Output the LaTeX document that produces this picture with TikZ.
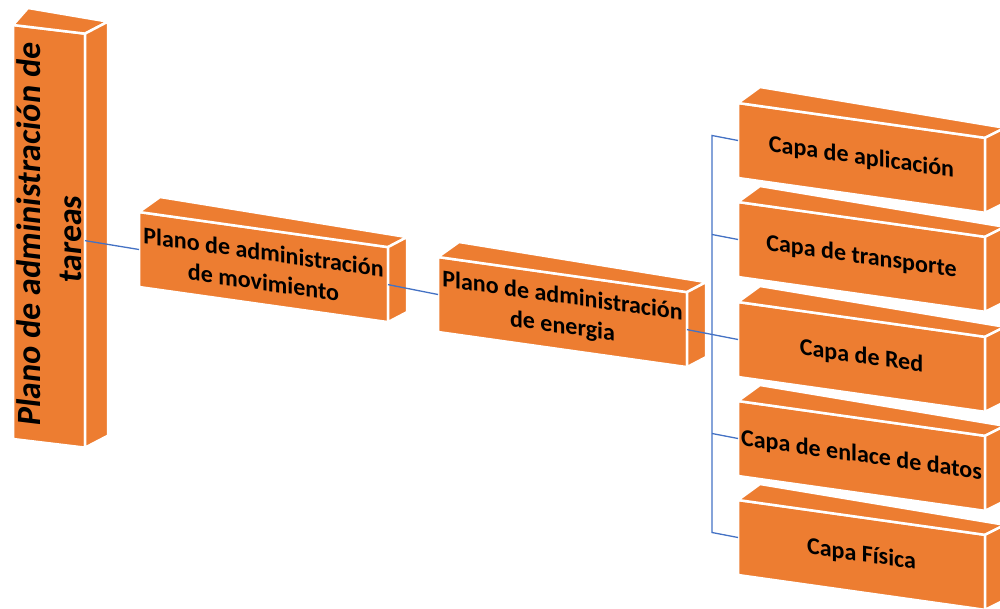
\documentclass[tikz,border=0pt]{standalone}
\usepackage{fontspec}
\setmainfont{Carlito}
\usetikzlibrary{calc}
\definecolor{boxorange}{HTML}{ED7D31}
\definecolor{linkblue}{HTML}{4472C4}
\newcommand\boxsides[5]{%
  \path[face] (#1.north west) -- ++(#2,#3) -- ($(#1.north east)+(#4,#5)$) -- (#1.north east) -- cycle;
  \path[face] (#1.north east) -- ++(#4,#5) -- ($(#1.south east)+(#4,#5)$) -- (#1.south east) -- cycle;
}
\begin{document}
\begin{tikzpicture}[x=1pt,y=1pt,
  face/.style={fill=boxorange, draw=white, line width=2.5pt, line join=round},
  front/.style={face, inner sep=0pt, outer sep=0pt, align=center, text=black,
    font=\bfseries\fontsize{24}{30}\selectfont},
  tallfont/.style={align=center, text=black, font=\bfseries\fontsize{34}{41}\selectfont},
  conn/.style={draw=linkblue, line width=1.3pt}]
\useasboundingbox (0,0) rectangle (1000,-609);
\clip (0,0) rectangle (1000,-609);

% tall box
\begin{scope}[shift={(13,-25)}, yslant=-0.12, transform shape]
  \node[front, minimum width=72, minimum height=414, anchor=north west] (tall) at (0,0) {};
  \node[tallfont, rotate=90] (tallt) at (tall.center) {Plano de administración de\\tareas};
\end{scope}
\boxsides{tall}{15}{17}{23}{12}

% movement box
\begin{scope}[shift={(139,-212)}, yslant=-0.141, transform shape]
  \node[front, minimum width=249, minimum height=75, anchor=north west] (mov) at (0,0)
    {Plano de administración\\de movimiento};
\end{scope}
\boxsides{mov}{21}{15}{19}{10}

% energy box
\begin{scope}[shift={(438,-257)}, yslant=-0.141, transform shape]
  \node[front, minimum width=249, minimum height=75, anchor=north west] (en) at (0,0)
    {Plano de administración\\de energia};
\end{scope}
\boxsides{en}{21}{15}{19}{10}

% layer boxes
\begin{scope}[shift={(738,-103)}, yslant=-0.141, transform shape]
  \node[front, minimum width=247, minimum height=75, anchor=north west] (app) at (0,0) {Capa de aplicación};
\end{scope}
\boxsides{app}{22}{16}{20}{10}
\begin{scope}[shift={(738,-202)}, yslant=-0.141, transform shape]
  \node[front, minimum width=247, minimum height=75, anchor=north west] (tra) at (0,0) {Capa de transporte};
\end{scope}
\boxsides{tra}{22}{16}{20}{10}
\begin{scope}[shift={(738,-302)}, yslant=-0.141, transform shape]
  \node[front, minimum width=247, minimum height=75, anchor=north west] (red) at (0,0) {Capa de Red};
\end{scope}
\boxsides{red}{22}{16}{20}{10}
\begin{scope}[shift={(738,-401)}, yslant=-0.141, transform shape]
  \node[front, minimum width=247, minimum height=75, anchor=north west] (enl) at (0,0) {Capa de enlace de datos};
\end{scope}
\boxsides{enl}{22}{16}{20}{10}
\begin{scope}[shift={(738,-500)}, yslant=-0.141, transform shape]
  \node[front, minimum width=247, minimum height=75, anchor=north west] (fis) at (0,0) {Capa Física};
\end{scope}
\boxsides{fis}{22}{16}{20}{10}

% connectors
\coordinate (b1) at ($(app.west)+(-26,5)$);
\coordinate (b2) at ($(tra.west)+(-26,5)$);
\coordinate (b4) at ($(enl.west)+(-26,5)$);
\coordinate (b5) at ($(fis.west)+(-26,5)$);
\draw[conn] (tall.east) -- (mov.west);
\draw[conn] (mov.east) -- (en.west);
\draw[conn] (en.east) -- (red.west);
\draw[conn] (app.west) -- (b1) -- (b5) -- (fis.west);
\draw[conn] (b2) -- (tra.west);
\draw[conn] (b4) -- (enl.west);
\end{tikzpicture}
\end{document}
